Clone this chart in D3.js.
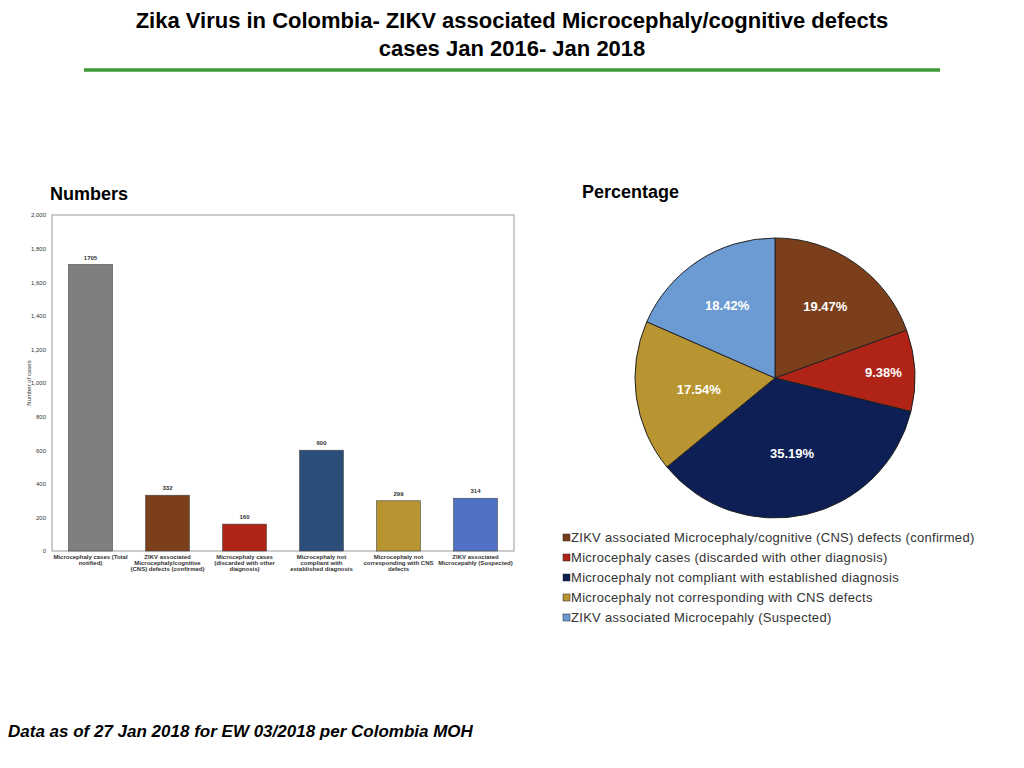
<!DOCTYPE html>
<html><head><meta charset="utf-8">
<script src="https://cdn.jsdelivr.net/npm/d3@7"></script>
<style>body{margin:0;background:#fff;font-family:"Liberation Sans",Arial,sans-serif}</style>
</head><body>
<script>
// bar data
var barLabels = [
  ["Microcephaly cases (Total", "notified)"],
  ["ZIKV associated", "Microcephaly/cognitive", "(CNS) defects (confirmed)"],
  ["Microcephaly cases", "(discarded with other", "diagnosis)"],
  ["Microcephaly not", "compliant with", "established diagnosis"],
  ["Microcephaly not", "corresponding with CNS", "defects"],
  ["ZIKV associated", "Microcepahly (Suspected)"]
];
var barValues = [1705, 332, 160, 600, 299, 314];
var barColors = ["#7f7f7f", "#7b3f1c", "#b02418", "#2b4e79", "#b89530", "#4f72c4"];
var yTicks = [0, 200, 400, 600, 800, 1000, 1200, 1400, 1600, 1800, 2000];

// pie data
var pieLabels = [
  "ZIKV associated Microcephaly/cognitive (CNS) defects (confirmed)",
  "Microcephaly cases (discarded with other diagnosis)",
  "Microcephaly not compliant with established diagnosis",
  "Microcephaly not corresponding with CNS defects",
  "ZIKV associated Microcepahly (Suspected)"
];
var pieValues = [19.47, 9.38, 35.19, 17.54, 18.42];
var pieColors = ["#7b3f1c", "#b02418", "#0d1f54", "#b89530", "#6b9bd2"];

var svg = d3.select("body").append("svg").attr("width", 1024).attr("height", 768);

svg.append("text").attr("x", 512).attr("y", 28).attr("text-anchor", "middle")
  .style("font-size", "22px").style("font-weight", "bold")
  .text("Zika Virus in Colombia- ZIKV associated Microcephaly/cognitive defects");
svg.append("text").attr("x", 512).attr("y", 56).attr("text-anchor", "middle")
  .style("font-size", "22px").style("font-weight", "bold")
  .text("cases Jan 2016- Jan 2018");
svg.append("line").attr("x1", 84).attr("x2", 940).attr("y1", 70).attr("y2", 70)
  .attr("stroke", "#3f9a33").attr("stroke-width", 3.5);

svg.append("text").attr("x", 50).attr("y", 200).style("font-size", "18px").style("font-weight", "bold").text("Numbers");
svg.append("text").attr("x", 582).attr("y", 198).style("font-size", "18px").style("font-weight", "bold").text("Percentage");

svg.append("text").attr("x", 8).attr("y", 737).style("font-size", "17px")
  .style("font-weight", "bold").style("font-style", "italic")
  .text("Data as of 27 Jan 2018 for EW 03/2018 per Colombia MOH");

// bar chart
var L = 52, R = 514, T = 215, B = 551;
var x = d3.scaleBand().domain(d3.range(barValues.length)).range([L, R]).paddingInner(0.43).paddingOuter(0.215);
var y = d3.scaleLinear().domain([0, 2000]).range([B, T]);

var g = svg.append("g");
g.append("rect").attr("x", L).attr("y", T).attr("width", R - L).attr("height", B - T)
  .attr("fill", "none").attr("stroke", "#999");
var ya = g.append("g").attr("transform", "translate(" + L + ",0)")
  .call(d3.axisLeft(y).tickValues(yTicks).tickSize(0).tickPadding(6));
ya.select(".domain").remove();
ya.selectAll("text").style("font-size", "6px").attr("fill", "#333");

g.append("text").attr("transform", "translate(31," + ((T + B) / 2) + ") rotate(-90)")
  .attr("text-anchor", "middle").style("font-size", "6px").attr("fill", "#333").text("Number of cases");

g.selectAll(".bar").data(barValues).enter().append("rect")
  .attr("x", function(d, i) { return x(i); })
  .attr("y", function(d) { return y(d); })
  .attr("width", x.bandwidth())
  .attr("height", function(d) { return B - y(d); })
  .attr("fill", function(d, i) { return barColors[i]; })
  .attr("stroke", "#444").attr("stroke-width", 0.6);

g.selectAll(".val").data(barValues).enter().append("text")
  .attr("x", function(d, i) { return x(i) + x.bandwidth() / 2; })
  .attr("y", function(d) { return y(d) - 5; })
  .attr("text-anchor", "middle").style("font-size", "6px").style("font-weight", "bold").attr("fill", "#333")
  .text(function(d) { return d; });

barLabels.forEach(function(lines, i) {
  var t = g.append("text").attr("text-anchor", "middle").attr("fill", "#333")
    .style("font-size", "6px").style("font-weight", "bold");
  lines.forEach(function(s, j) {
    t.append("tspan").attr("x", x(i) + x.bandwidth() / 2).attr("y", 559 + j * 6.2).text(s);
  });
});

// pie
var cx = 775, cy = 378, r = 140;
var pie = d3.pie().sort(null).value(function(d) { return d; });
var arc = d3.arc().innerRadius(0).outerRadius(r);
var lab = d3.arc().innerRadius(r * 0.5).outerRadius(r * 0.5);
var pg = svg.append("g").attr("transform", "translate(" + cx + "," + cy + ")");
var arcs = pie(pieValues);
pg.selectAll("path").data(arcs).enter().append("path")
  .attr("d", arc).attr("fill", function(d, i) { return pieColors[i]; })
  .attr("stroke", "#222").attr("stroke-width", 1);
var off = [[0, 0], [20, -10], [0, -5], [-10, 0], [-8, 0]];
pg.selectAll(".pl").data(arcs).enter().append("text")
  .attr("transform", function(d, i) {
    var c = lab.centroid(d);
    var f = i == 1 ? 1.55 : (i == 0 || i == 4 ? 1.25 : 1.1);
    return "translate(" + (c[0] * f) + "," + (c[1] * f + 5) + ")";
  })
  .attr("text-anchor", "middle").attr("fill", "#fff")
  .style("font-size", "13px").style("font-weight", "bold")
  .text(function(d) { return d.data.toFixed(2) + "%"; });

var lg = svg.append("g");
pieLabels.forEach(function(s, i) {
  var yy = 538 + i * 20;
  lg.append("rect").attr("x", 563).attr("y", yy - 4).attr("width", 7).attr("height", 7)
    .attr("fill", pieColors[i]).attr("stroke", "#222").attr("stroke-width", 0.5);
  lg.append("text").attr("x", 571).attr("y", yy + 4).style("font-size", "13px").attr("fill", "#333")
    .style("letter-spacing", "0.3px").text(s);
});
</script>
</body></html>
